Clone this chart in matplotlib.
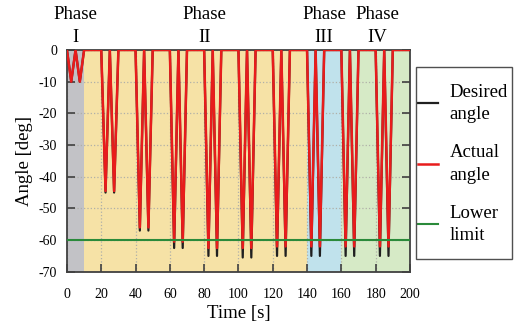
import numpy as np
import matplotlib.pyplot as plt
from matplotlib.patches import Rectangle

# cycle start times [s] (each cycle = two dips of 5 s each)
cycle_start = [0, 20, 40, 60, 80, 100, 120, 140, 160, 180]
desired_depth = [-10, -45, -57, -62.5, -65, -65.5, -65, -65, -65, -65]
actual_depth = [-10, -44.5, -56, -60.5, -62.5, -62.5, -62, -62, -62, -62]
lower_limit = -60

phase_edges = [0, 10, 140, 160, 200]
phase_colors = ['#c2c2c6', '#f6e2a6', '#c0e2ec', '#d6eac6']
phase_labels = ['Phase\nI', 'Phase\nII', 'Phase\nIII', 'Phase\nIV']
phase_label_x = [5, 80, 150, 181]


def build_series(depths):
    t, y = [], []
    for t0, d in zip(cycle_start, depths):
        t += [t0, t0 + 2.5, t0 + 5, t0 + 7.5, t0 + 10]
        y += [0, d, 0, d, 0]
    t.append(200)
    y.append(0)
    return np.array(t), np.array(y)


plt.rcParams['font.family'] = ['Liberation Serif', 'DejaVu Serif']
plt.rcParams['axes.unicode_minus'] = False

fig = plt.figure(figsize=(5.15, 3.31), dpi=100)
ax = fig.add_axes([0.130, 0.179, 0.666, 0.670])

for i in range(4):
    ax.axvspan(phase_edges[i], phase_edges[i + 1], color=phase_colors[i], lw=0, zorder=0)

ax.grid(True, ls=':', color='#b0b0a8', lw=0.9, zorder=1)

td, yd = build_series(desired_depth)
ta, ya = build_series(actual_depth)
ax.plot(td, yd, color='#202020', lw=1.6, label='Desired\nangle', zorder=3)
ax.plot(ta, ya, color='#e81c1c', lw=1.8, label='Actual\nangle', zorder=4)
ax.axhline(lower_limit, color='#2a8a3a', lw=1.5, label='Lower\nlimit', zorder=5)

ax.set_xlim(0, 200)
ax.set_ylim(-70, 0)
ax.set_xticks(range(0, 201, 20))
ax.set_yticks(range(-70, 1, 10))
ax.tick_params(direction='in', length=6, width=1.2, color='#404040',
               labelsize=10, right=True)
ax.tick_params(axis='x', pad=11.5)
ax.tick_params(axis='y', pad=7)
for s in ax.spines.values():
    s.set_color('#404040')
    s.set_linewidth(1.3)

ax.set_xlabel('Time [s]', fontsize=13.5, labelpad=3)
ax.set_ylabel('Angle [deg]', fontsize=13.5, labelpad=4)

for lab, x in zip(phase_labels, phase_label_x):
    ax.annotate(lab, (x, 1.0), xycoords=ax.get_xaxis_transform(),
                xytext=(0, 3), textcoords='offset points', ha='center', va='bottom',
                fontsize=13.5, linespacing=1.45)

# legend frame drawn separately so it can be taller than its contents
fig.patches.append(Rectangle((416 / 515, 1 - 259 / 331), 96 / 515, 192 / 331,
                             transform=fig.transFigure, fill=False,
                             edgecolor='#505050', lw=1.0))
leg = ax.legend(loc='center', bbox_to_anchor=(463 / 515, 1 - 164 / 331),
                bbox_transform=fig.transFigure, frameon=False,
                fontsize=13.5, handlelength=1.05, handletextpad=0.6, labelspacing=1.1,
                borderpad=0)
for txt in leg.get_texts():
    txt.set_linespacing(1.45)

fig.savefig('out.png', dpi=100)
